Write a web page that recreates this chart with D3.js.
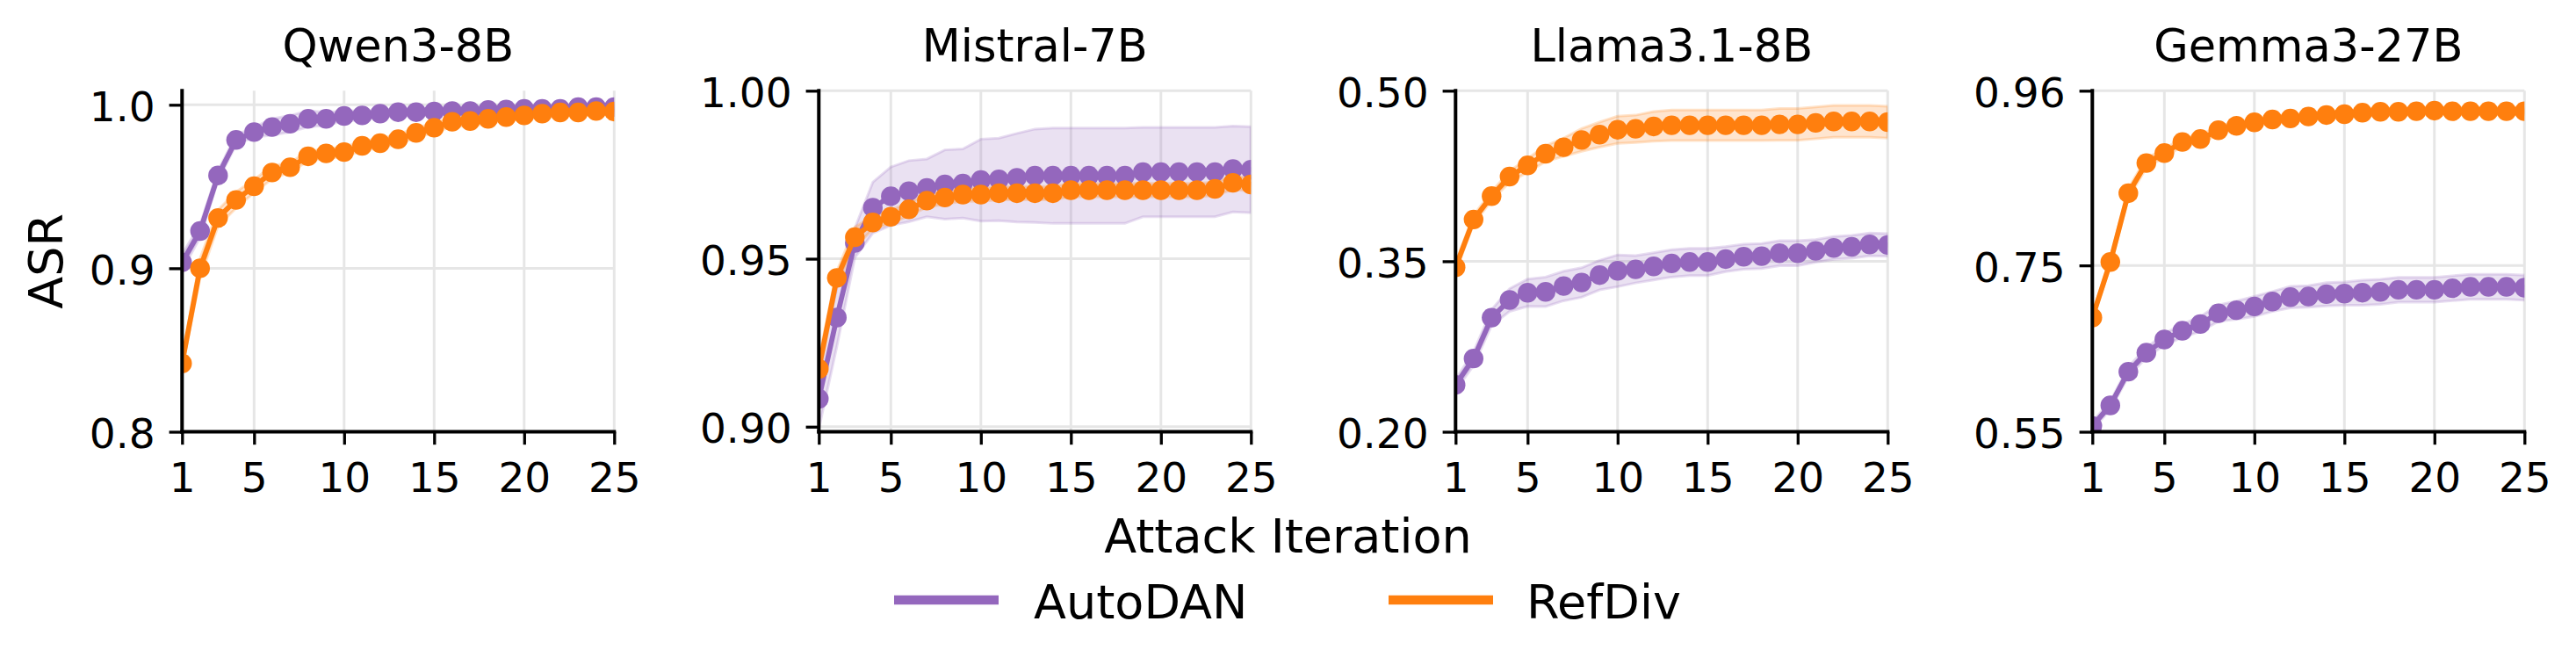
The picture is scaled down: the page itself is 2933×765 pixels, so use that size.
<!DOCTYPE html>
<html>
<head>
<meta charset="utf-8">
<script src="https://cdn.jsdelivr.net/npm/d3@7"></script>
<style>
  html, body { margin: 0; padding: 0; background: #fff; }
  svg { display: block; font-family: "DejaVu Sans", sans-serif; }
</style>
</head>
<body>
<svg id="chart" width="2933" height="765"></svg>
<script>
// ---------------- DATA ----------------
const iterations = [1,2,3,4,5,6,7,8,9,10,11,12,13,14,15,16,17,18,19,20,21,22,23,24,25];
const xTicks = [1, 5, 10, 15, 20, 25];
const models = ["Qwen3-8B", "Mistral-7B", "Llama3.1-8B", "Gemma3-27B"];
const seriesNames = ["AutoDAN", "RefDiv"];

const yDomains = [[0.8, 1.0086], [0.8985, 1.0], [0.2, 0.5], [0.55, 0.96]];
const yTicks = [[0.8, 0.9, 1.0], [0.90, 0.95, 1.00], [0.20, 0.35, 0.50], [0.55, 0.75, 0.96]];
const yTickLabels = [["0.8", "0.9", "1.0"], ["0.90", "0.95", "1.00"], ["0.20", "0.35", "0.50"], ["0.55", "0.75", "0.96"]];

// Qwen3-8B
const autodanQwen = [0.9036,0.9228,0.9568,0.9785,0.9833,0.9864,0.9884,0.9914,0.9914,0.9932,0.9935,0.9946,0.9955,0.9955,0.9959,0.9962,0.9962,0.9968,0.9971,0.9975,0.9975,0.9975,0.9986,0.9986,0.9986];
const autodanQwenStd = [0.005,0.004,0.003,0.003,0.003,0.005,0.005,0.005,0.004,0.003,0.003,0.002,0.002,0.002,0.002,0.002,0.002,0.002,0.002,0.002,0.002,0.002,0.002,0.002,0.002];
const refdivQwen = [0.8418,0.9000,0.9308,0.9418,0.9502,0.9586,0.9618,0.9685,0.9703,0.9711,0.9749,0.9765,0.9789,0.9828,0.9860,0.9896,0.9901,0.9914,0.9925,0.9935,0.9946,0.9953,0.9953,0.9962,0.9959];
const refdivQwenStd = [0.003,0.006,0.005,0.005,0.004,0.004,0.003,0.003,0.003,0.003,0.003,0.003,0.003,0.003,0.003,0.003,0.003,0.003,0.002,0.002,0.002,0.002,0.002,0.002,0.002];

// Mistral-7B
const autodanMistral = [0.9083,0.9325,0.9547,0.9652,0.9686,0.9701,0.9711,0.9721,0.9724,0.9734,0.9736,0.9741,0.9747,0.9747,0.9747,0.9747,0.9747,0.9747,0.9758,0.9758,0.9758,0.9758,0.9758,0.9767,0.9765];
const autodanMistralStd = [0.009,0.0087,0.0044,0.0076,0.0087,0.0091,0.0086,0.0103,0.0103,0.0122,0.0123,0.0132,0.0139,0.0142,0.0142,0.0142,0.0142,0.0142,0.0133,0.0133,0.0133,0.0133,0.0133,0.0128,0.0128];
const refdivMistral = [0.9172,0.9443,0.9564,0.9608,0.9625,0.9647,0.9673,0.9682,0.9691,0.9691,0.9695,0.9695,0.9695,0.9695,0.9704,0.9704,0.9704,0.9704,0.9704,0.9704,0.9704,0.9704,0.9708,0.9726,0.9721];
const refdivMistralStd = [0.003,0.002,0.003,0.002,0.002,0.002,0.002,0.002,0.002,0.002,0.002,0.002,0.002,0.002,0.002,0.002,0.002,0.002,0.002,0.002,0.002,0.002,0.002,0.002,0.002];

// Llama3.1-8B
const autodanLlama = [0.2412,0.2644,0.3004,0.3159,0.3223,0.3231,0.3282,0.3313,0.3378,0.3416,0.3429,0.3455,0.3481,0.3493,0.3493,0.3519,0.3540,0.3545,0.3571,0.3571,0.3591,0.3617,0.3627,0.3648,0.3643];
const autodanLlamaStd = [0.005,0.006,0.007,0.010,0.012,0.013,0.013,0.013,0.013,0.014,0.012,0.012,0.012,0.012,0.012,0.011,0.011,0.011,0.011,0.011,0.010,0.010,0.010,0.010,0.010];
const refdivLlama = [0.3447,0.3867,0.4073,0.4245,0.4343,0.4446,0.4503,0.4567,0.4614,0.4657,0.4665,0.4686,0.4696,0.4696,0.4696,0.4696,0.4696,0.4696,0.4704,0.4704,0.4717,0.4730,0.4730,0.4730,0.4724];
const refdivLlamaStd = [0.004,0.004,0.004,0.005,0.006,0.007,0.008,0.010,0.011,0.012,0.012,0.013,0.0135,0.0135,0.0135,0.0135,0.0135,0.0135,0.014,0.014,0.014,0.014,0.014,0.014,0.014];

// Gemma3-27B
const autodanGemma = [0.5570,0.5817,0.6222,0.6450,0.6609,0.6714,0.6795,0.6925,0.6961,0.7006,0.7066,0.7119,0.7126,0.7154,0.7161,0.7172,0.7182,0.7207,0.7207,0.7207,0.7225,0.7242,0.7242,0.7242,0.7232];
const autodanGemmaStd = [0.005,0.005,0.006,0.006,0.007,0.008,0.009,0.010,0.011,0.012,0.012,0.013,0.013,0.014,0.014,0.015,0.015,0.015,0.015,0.015,0.015,0.015,0.015,0.015,0.015];
const refdivGemma = [0.6873,0.7541,0.8368,0.8731,0.8850,0.8984,0.9019,0.9125,0.9178,0.9220,0.9255,0.9266,0.9290,0.9308,0.9318,0.9336,0.9347,0.9347,0.9354,0.9361,0.9354,0.9354,0.9354,0.9354,0.9354];
const refdivGemmaStd = [0.004,0.005,0.006,0.006,0.005,0.005,0.005,0.005,0.005,0.004,0.004,0.004,0.004,0.004,0.004,0.004,0.004,0.004,0.004,0.004,0.004,0.004,0.004,0.004,0.004];

const panelSeries = [
  [[autodanQwen, autodanQwenStd], [refdivQwen, refdivQwenStd]],
  [[autodanMistral, autodanMistralStd], [refdivMistral, refdivMistralStd]],
  [[autodanLlama, autodanLlamaStd], [refdivLlama, refdivLlamaStd]],
  [[autodanGemma, autodanGemmaStd], [refdivGemma, refdivGemmaStd]]
];

// ---------------- STYLE / LAYOUT ----------------
const colors = ["#9467bd", "#ff7f0e"];
const panelLefts = [207.3, 932.3, 1657.3, 2382.3];
const panelWidth = 492;
const plotTop = 103.3, plotBottom = 491.5;
const tickFont = 47, titleFont = 51, labelFont = 54;
const markerRadius = 11.2, lineWidth = 5.8;

const svg = d3.select("#chart");

panelLefts.forEach((left, p) => {
  const x = d3.scaleLinear().domain([1, 25]).range([left, left + panelWidth]);
  const y = d3.scaleLinear().domain(yDomains[p]).range([plotBottom, plotTop]);
  const g = svg.append("g");

  // clip
  const clipId = "clip" + p;
  svg.append("defs").append("clipPath").attr("id", clipId)
    .append("rect").attr("x", left).attr("y", plotTop)
    .attr("width", panelWidth).attr("height", plotBottom - plotTop);

  // grid
  const grid = g.append("g").attr("stroke", "#e6e6e6").attr("stroke-width", 3);
  xTicks.forEach(t => grid.append("line")
    .attr("x1", x(t)).attr("x2", x(t)).attr("y1", plotTop).attr("y2", plotBottom));
  yTicks[p].forEach(t => grid.append("line")
    .attr("x1", left).attr("x2", left + panelWidth).attr("y1", y(t)).attr("y2", y(t)));

  const plot = g.append("g").attr("clip-path", `url(#${clipId})`);

  // bands
  panelSeries[p].forEach(([mean, sd], s) => {
    const area = d3.area()
      .x((d, i) => x(iterations[i]))
      .y0((d, i) => y(mean[i] - sd[i]))
      .y1((d, i) => y(mean[i] + sd[i]));
    plot.append("path").datum(mean).attr("d", area)
      .attr("fill", colors[s]).attr("fill-opacity", 0.2)
      .attr("stroke", colors[s]).attr("stroke-opacity", 0.22).attr("stroke-width", 3);
  });

  // lines + markers
  panelSeries[p].forEach(([mean], s) => {
    const line = d3.line().x((d, i) => x(iterations[i])).y(d => y(d));
    plot.append("path").datum(mean).attr("d", line)
      .attr("fill", "none").attr("stroke", colors[s]).attr("stroke-width", lineWidth)
      .attr("stroke-linejoin", "round");
    plot.selectAll(null).data(mean).enter().append("circle")
      .attr("cx", (d, i) => x(iterations[i])).attr("cy", d => y(d))
      .attr("r", markerRadius).attr("fill", colors[s]);
  });

  // axes
  const yAxis = d3.axisLeft(y).tickValues(yTicks[p])
    .tickFormat((d, i) => yTickLabels[p][i]).tickSize(14.7).tickSizeOuter(0).tickPadding(16);
  const ya = g.append("g").attr("transform", `translate(${left},0)`).call(yAxis);
  const xAxis = d3.axisBottom(x).tickValues(xTicks)
    .tickFormat(d3.format("d")).tickSize(14.7).tickSizeOuter(0).tickPadding(20);
  const xa = g.append("g").attr("transform", `translate(0,${plotBottom})`).call(xAxis);

  [ya, xa].forEach(a => {
    a.select(".domain").remove();
    a.selectAll(".tick line").attr("stroke", "#000").attr("stroke-width", 3.3);
    a.selectAll(".tick text").attr("fill", "#000")
      .style("font-size", tickFont + "px").style("font-family", "DejaVu Sans");
  });
  ya.selectAll(".tick text").attr("dy", "0.38em");

  // spines
  g.append("line").attr("x1", left).attr("x2", left)
    .attr("y1", plotTop - 2).attr("y2", plotBottom + 2)
    .attr("stroke", "#000").attr("stroke-width", 4);
  g.append("line").attr("x1", left - 2).attr("x2", left + panelWidth + 2)
    .attr("y1", plotBottom).attr("y2", plotBottom)
    .attr("stroke", "#000").attr("stroke-width", 4);

  // title
  g.append("text").attr("x", left + panelWidth / 2).attr("y", 70)
    .attr("text-anchor", "middle").style("font-size", titleFont + "px")
    .text(models[p]);
});

// y label
svg.append("text")
  .attr("transform", `translate(70.7,${(plotTop + plotBottom) / 2}) rotate(-90)`)
  .attr("text-anchor", "middle").style("font-size", labelFont + "px").text("ASR");

// x label
svg.append("text").attr("x", 1466.5).attr("y", 629)
  .attr("text-anchor", "middle").style("font-size", labelFont + "px").text("Attack Iteration");

// legend
const legendItems = [{x: 1018, tx: 1177}, {x: 1581, tx: 1738}];
legendItems.forEach((it, s) => {
  svg.append("line").attr("x1", it.x).attr("x2", it.x + 119)
    .attr("y1", 683).attr("y2", 683)
    .attr("stroke", colors[s]).attr("stroke-width", 10.5);
  svg.append("text").attr("x", it.tx).attr("y", 704)
    .style("font-size", labelFont + "px").text(seriesNames[s]);
});
</script>
</body>
</html>
